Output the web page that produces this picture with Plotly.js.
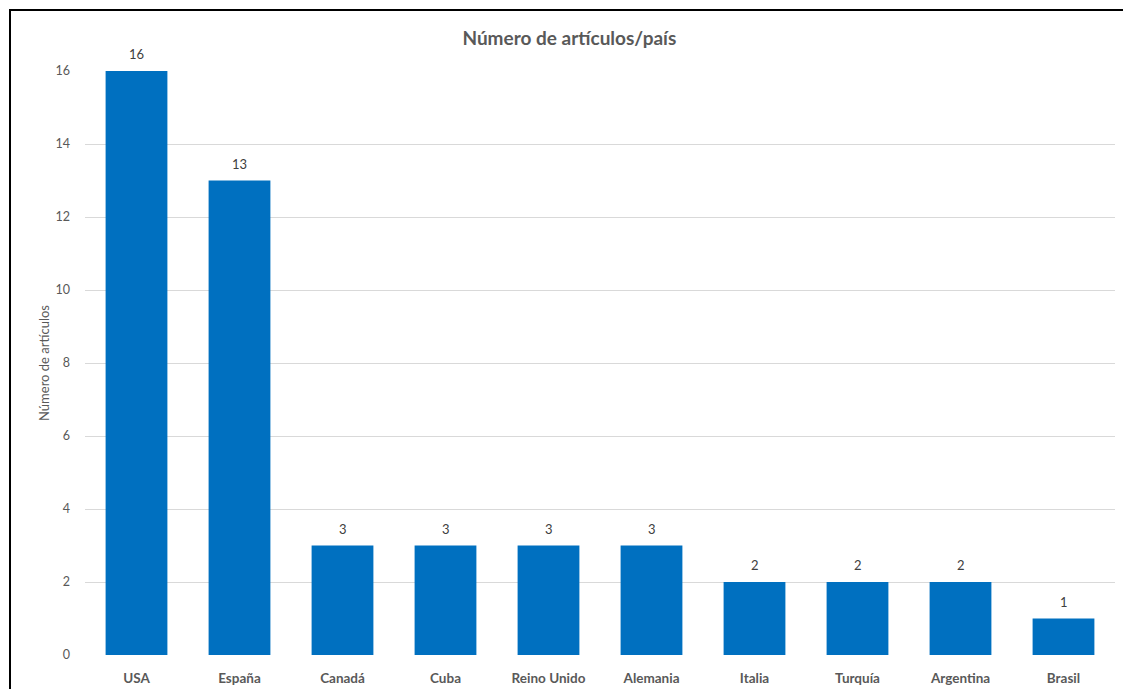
<!DOCTYPE html>
<html>
<head>
<meta charset="utf-8">
<script src="https://cdn.plot.ly/plotly-3.0.1.min.js"></script>
<style>
html,body{margin:0;padding:0;background:#fff;}
#wrap{position:relative;width:1123px;height:689px;}
#chart{width:1123px;height:689px;}
#frame{position:absolute;left:9px;top:9px;right:0;bottom:0;border-top:2px solid #000;border-left:2px solid #000;pointer-events:none;}
</style>
</head>
<body>
<div id="wrap"><div id="chart"></div><div id="frame"></div></div>
<script>
const countries = ["USA","España","Canadá","Cuba","Reino Unido","Alemania","Italia","Turquía","Argentina","Brasil"];
const articles = [16,13,3,3,3,3,2,2,2,1];
const yTicks = [0,2,4,6,8,10,12,14,16];

const font = "Lato, 'Open Sans', 'Liberation Sans', sans-serif";

const labels = countries.map((c, i) => ({
  x: c, y: articles[i], xref: 'x', yref: 'y',
  text: String(articles[i]), showarrow: false,
  yanchor: 'bottom', yshift: 7,
  font: {family: font, size: 13, color: '#404040'}
}));

Plotly.newPlot('chart', [{
  type: 'bar',
  x: countries,
  y: articles,
  marker: {color: '#0070C0'},
  hoverinfo: 'x+y'
}], {
  width: 1123, height: 689,
  margin: {l: 85, r: 8, t: 71, b: 34},
  paper_bgcolor: '#fff', plot_bgcolor: '#fff',
  bargap: 0.4,
  showlegend: false,
  annotations: labels,
  title: {text: '<b>Número de artículos/país</b>', x: 0.507, xanchor: 'center', y: 0.945, yanchor: 'middle',
          font: {family: font, size: 19, color: '#595959'}},
  xaxis: {
    type: 'category',
    tickfont: {family: font, size: 13.5, color: '#595959', weight: 'bold'},
    showgrid: false, zeroline: false, showline: false, ticks: '',
    ticklabelstandoff: 13
  },
  yaxis: {
    range: [0, 16], tickvals: yTicks, ticktext: yTicks.map(String),
    tickfont: {family: font, size: 12.5, color: '#595959'},
    gridcolor: '#D9D9D9', gridwidth: 1, zeroline: false, showline: false, ticks: '',
    ticklabelstandoff: 14,
    title: {text: 'Número de artículos', font: {family: font, size: 13, color: '#595959'}, standoff: 2}
  }
}, {displayModeBar: false, staticPlot: true});
</script>
</body>
</html>
